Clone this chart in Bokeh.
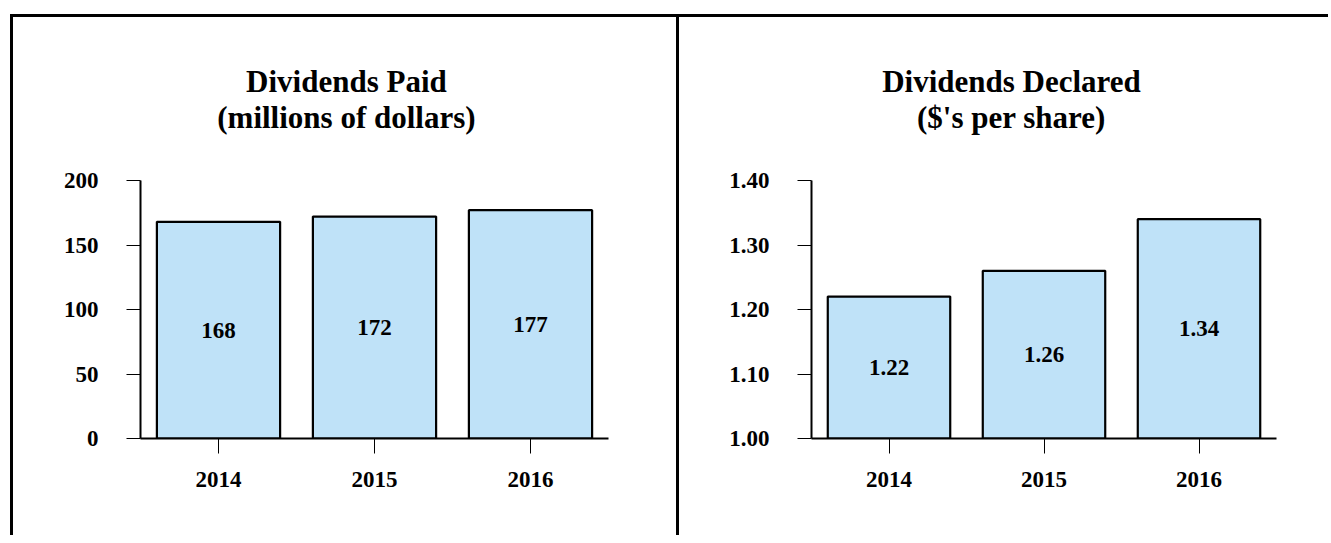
from bokeh.plotting import figure
from bokeh.layouts import row
from bokeh.models import ColumnDataSource, FactorRange, Range1d, Label, NumeralTickFormatter, FixedTicker
from bokeh.embed import file_html
from bokeh.resources import INLINE
from bokeh.core.properties import value

# ---- data ----
years = ["2014", "2015", "2016"]
paid = [168, 172, 177]
paid_labels = ["168", "172", "177"]
declared = [1.22, 1.26, 1.34]
declared_labels = ["1.22", "1.26", "1.34"]
paid_ticks = [0, 50, 100, 150, 200]
declared_ticks = [1.00, 1.10, 1.20, 1.30, 1.40]
titles_left = ["Dividends Paid", "(millions of dollars)"]
titles_right = ["Dividends Declared", "($'s per share)"]

FONT = "Liberation Serif"
BAR_FILL = "#bfe2f8"
AXIS_PX = 258  # pixel height of the drawn value axis


def make_panel(vals, labels, base, top, ticks, fmt, title_lines, title_x, title_px,
               width, height, mb_left, mb_right, mb_bottom, margin):
    mb_top = 10
    frame_px = height - mb_top - mb_bottom
    unit = (top - base) / AXIS_PX
    y_end = base + frame_px * unit
    src = ColumnDataSource(dict(
        year=years,
        val=vals,
        base=[base] * len(vals),
        mid=[(base + v) / 2 for v in vals],
        label=labels,
    ))
    p = figure(x_range=FactorRange(*years, range_padding=0),
               y_range=Range1d(base, y_end),
               width=width, height=height,
               output_backend="svg", toolbar_location=None,
               min_border_left=mb_left, min_border_right=mb_right,
               min_border_top=mb_top, min_border_bottom=mb_bottom,
               margin=margin,
               styles={"border-top": "3px solid black", "border-left": "3px solid black",
                       "box-sizing": "border-box"})
    p.border_fill_alpha = 0
    p.background_fill_color = None
    p.outline_line_color = None
    p.xgrid.visible = False
    p.ygrid.visible = False

    p.vbar(x="year", top="val", bottom="base", width=0.79, source=src,
           fill_color=BAR_FILL, line_color="black", line_width=2.2)
    p.text(x="year", y="mid", text="label", source=src,
           text_align="center", text_baseline="middle",
           text_font=value(FONT), text_font_style="bold", text_font_size="23px",
           text_color="black")

    for ax in (p.xaxis[0], p.yaxis[0]):
        ax.axis_line_color = "black"
        ax.axis_line_width = 2
        ax.major_tick_line_color = "black"
        ax.major_tick_line_width = 1
        ax.major_tick_in = 0
        ax.minor_tick_line_color = None
        ax.major_label_text_font = FONT
        ax.major_label_text_font_style = "bold"
        ax.major_label_text_font_size = "23px"
        ax.major_label_text_color = "black"
    p.xaxis.major_tick_out = 15
    p.xaxis.major_label_standoff = 18
    p.yaxis.major_tick_out = 14
    p.yaxis.major_label_standoff = 28
    p.yaxis.ticker = FixedTicker(ticks=ticks)
    p.yaxis.formatter = NumeralTickFormatter(format=fmt)
    p.yaxis.bounds = (base, top)

    # title lines: baseline pixel offsets above the top of the value axis
    for line, dy in zip(title_lines, title_px):
        p.add_layout(Label(x=title_x, y=top + dy * unit, text=line, text_align="center",
                           text_baseline="alphabetic", text_font=FONT,
                           text_font_style="bold", text_font_size="31px",
                           text_color="black"))
    return p


p1 = make_panel(paid, paid_labels, 0, 200, paid_ticks, "0", titles_left,
                1.32, [99, 63],
                666, 521, 127, 71, 100, (14, 0, 0, 10))
p2 = make_panel(declared, declared_labels, 1.0, 1.4, declared_ticks, "0.00", titles_right,
                1.29, [99, 63],
                652, 521, 132, 55, 100, (14, 0, 0, 0))

layout = row(p1, p2)
open("out.html", "w").write(file_html(layout, INLINE))
